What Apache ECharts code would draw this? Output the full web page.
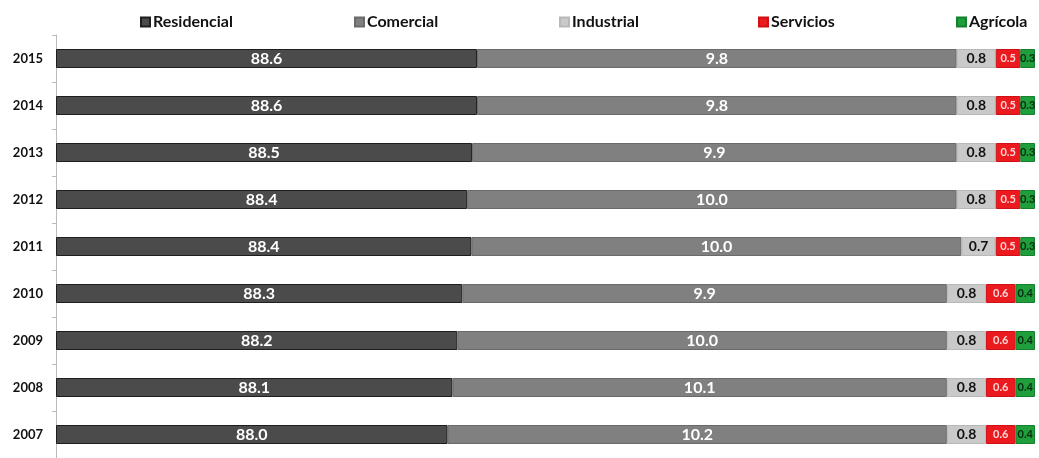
<!DOCTYPE html>
<html>
<head>
<meta charset="utf-8">
<script src="https://cdn.jsdelivr.net/npm/echarts@6/dist/echarts.min.js"></script>
<style>
html,body{margin:0;padding:0;background:#fff;}
#c{width:1039px;height:458px;}
</style>
</head>
<body>
<div id="c"></div>
<script>
// Data (top to bottom as shown: 2015 ... 2007)
const years = ['2015','2014','2013','2012','2011','2010','2009','2008','2007'];
const residencial = [88.6, 88.6, 88.5, 88.4, 88.4, 88.3, 88.2, 88.1, 88.0];
const comercial   = [9.8, 9.8, 9.9, 10.0, 10.0, 9.9, 10.0, 10.1, 10.2];
const industrial  = [0.8, 0.8, 0.8, 0.8, 0.7, 0.8, 0.8, 0.8, 0.8];
const servicios   = [0.5, 0.5, 0.5, 0.5, 0.5, 0.6, 0.6, 0.6, 0.6];
const agricola    = [0.3, 0.3, 0.3, 0.3, 0.3, 0.4, 0.4, 0.4, 0.4];
const seriesNames = ['Residencial','Comercial','Industrial','Servicios','Agrícola'];

// The original is a 100% stacked bar whose value axis starts at 80 %
const AXIS_MIN = 80;

const colors = ['#4b4b4b','#808080','#c9c9c9','#ea1a1f','#1f9e3c'];
const borders = ['#1e1e1e','#6a6a6a','#b8b8b8','#d01015','#15802e'];
const labelColors = ['#ffffff','#ffffff','#111111','#ffd6d6','#0b2a10'];
const labelSizes = [16,16,14,11,11];
const font = 'Lato, "Open Sans", sans-serif';

const seriesValues = [residencial, comercial, industrial, servicios, agricola];
const rowSums = years.map((_, r) => seriesValues.reduce((s, arr) => s + arr[r], 0));

const series = seriesValues.map((vals, i) => ({
  name: seriesNames[i],
  type: 'bar',
  stack: 'total',
  barWidth: 19,
  clip: true,
  data: vals.map((v, r) => {
    const pct = v / rowSums[r] * 100;
    return { value: i === 0 ? pct - AXIS_MIN : pct, real: v };
  }),
  itemStyle: { color: colors[i], borderColor: borders[i], borderWidth: 1 },
  label: {
    show: true,
    position: 'inside',
    color: labelColors[i],
    fontFamily: font,
    fontWeight: 'bold',
    fontSize: labelSizes[i],
    formatter: p => p.data.real.toFixed(1)
  },
  emphasis: { disabled: true }
}));

const legendLefts = [135, 349, 554, 753, 951];
const legends = seriesNames.map((n, i) => ({
  data: [n],
  left: legendLefts[i],
  top: 9,
  itemWidth: 9,
  itemHeight: 9,
  icon: 'rect',
  itemGap: 4,
  textStyle: { fontFamily: font, fontSize: 16, color: '#111', fontWeight: 'bold', padding: [0,0,0,-2] },
  selectedMode: false
}));

const chart = echarts.init(document.getElementById('c'), null, { renderer: 'canvas' });
chart.setOption({
  animation: false,
  backgroundColor: '#ffffff',
  legend: legends,
  grid: { left: 56, right: 4, top: 35, bottom: -5, containLabel: false },
  xAxis: {
    type: 'value',
    min: 0,
    max: 100 - AXIS_MIN,
    show: false
  },
  yAxis: {
    type: 'category',
    data: years,
    inverse: true,
    axisLine: { show: true, lineStyle: { color: '#bbbbbb', width: 1 } },
    axisTick: { show: true, length: 4, lineStyle: { color: '#bbbbbb' } },
    axisLabel: { color: '#111', fontFamily: font, fontWeight: 'bold', fontSize: 13, margin: 13 },
    splitLine: { show: false }
  },
  series: series
});
</script>
</body>
</html>
